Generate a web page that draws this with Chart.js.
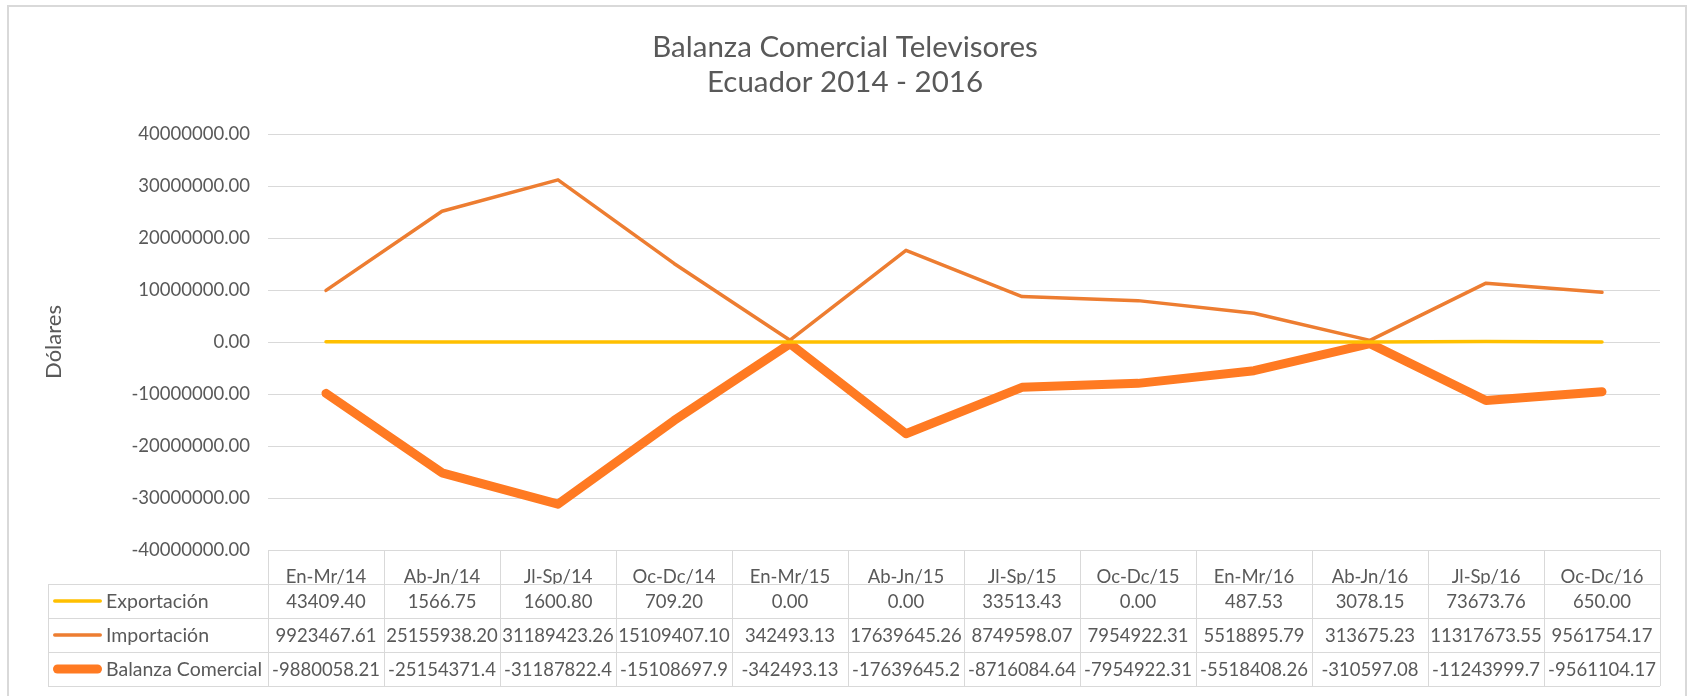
<!DOCTYPE html>
<html>
<head>
<meta charset="utf-8">
<script src="https://cdn.jsdelivr.net/npm/chart.js@4"></script>
<style>
  body { margin: 0; background: #fff; }
  #wrap { position: relative; width: 1687px; height: 696px; }
  #frame { position: absolute; left: 7px; top: 5px; width: 1676px; height: 700px;
           border: 2px solid #d9d9d9; pointer-events: none; }
</style>
</head>
<body>
<div id="wrap">
  <canvas id="myChart"></canvas>
  <div id="frame"></div>
</div>
<script>
var labels = ['En-Mr/14','Ab-Jn/14','Jl-Sp/14','Oc-Dc/14','En-Mr/15','Ab-Jn/15','Jl-Sp/15','Oc-Dc/15','En-Mr/16','Ab-Jn/16','Jl-Sp/16','Oc-Dc/16'];
var exportacion = [43409.40, 1566.75, 1600.80, 709.20, 0.00, 0.00, 33513.43, 0.00, 487.53, 3078.15, 73673.76, 650.00];
var importacion = [9923467.61, 25155938.20, 31189423.26, 15109407.10, 342493.13, 17639645.26, 8749598.07, 7954922.31, 5518895.79, 313675.23, 11317673.55, 9561754.17];
var balanza = [-9880058.21, -25154371.4, -31187822.4, -15108697.9, -342493.13, -17639645.2, -8716084.64, -7954922.31, -5518408.26, -310597.08, -11243999.7, -9561104.17];
var yTicks = [-40000000, -30000000, -20000000, -10000000, 0, 10000000, 20000000, 30000000, 40000000];

var font = 'Lato';
var grey = '#595959';
var lineGrey = '#d9d9d9';

// excel "general" style: cut a decimal when the cell is too narrow
function cellText(v){
  var s = v.toFixed(2);
  if (s.length > 11) s = v.toFixed(1);
  return s;
}

var tablePlugin = {
  id: 'dataTable',
  afterDraw: function(chart){
    var ctx = chart.ctx;
    var area = chart.chartArea;
    var x = chart.scales.x;
    var w = x.getPixelForValue(1) - x.getPixelForValue(0);
    var top = area.bottom;
    var rowH = 34;
    var legLeft = 48;
    ctx.save();
    ctx.strokeStyle = lineGrey;
    ctx.lineWidth = 1;
    ctx.beginPath();
    for (var r = 0; r <= 4; r++){
      var yy = Math.round(top + r*rowH) + 0.5;
      ctx.moveTo(r == 0 ? area.left : legLeft, yy);
      ctx.lineTo(area.right, yy);
    }
    ctx.moveTo(legLeft + 0.5, top + rowH);
    ctx.lineTo(legLeft + 0.5, top + 4*rowH);
    for (var k = 0; k <= labels.length; k++){
      var xx = Math.round(x.getPixelForValue(0) - w/2 + k*w) + 0.5;
      ctx.moveTo(xx, top);
      ctx.lineTo(xx, top + 4*rowH);
    }
    ctx.stroke();

    ctx.fillStyle = grey;
    ctx.textBaseline = 'middle';
    chart.data.datasets.forEach(function(ds, i){
      var cy = top + rowH*(i+1) + rowH/2;
      ctx.beginPath();
      ctx.strokeStyle = ds.borderColor;
      ctx.lineWidth = ds.borderWidth;
      ctx.lineCap = 'round';
      ctx.moveTo(53 + ds.borderWidth/2, cy);
      ctx.lineTo(102 - ds.borderWidth/2, cy);
      ctx.stroke();
      ctx.font = '19.5px ' + font;
      ctx.textAlign = 'left';
      ctx.fillText(ds.label, 106, cy + 1);
      ctx.font = '18.5px ' + font;
      ctx.textAlign = 'center';
      ds.data.forEach(function(v, j){
        ctx.fillText(cellText(v), x.getPixelForValue(j), cy + 1);
      });
    });
    ctx.restore();
  }
};

var ctx = document.getElementById('myChart').getContext('2d');
var myChart = new Chart(ctx, {
  type: 'line',
  data: {
    labels: labels,
    datasets: [{
      label: 'Exportación',
      data: exportacion,
      borderColor: '#FFC000',
      borderWidth: 3.5
    }, {
      label: 'Importación',
      data: importacion,
      borderColor: '#ED7D31',
      borderWidth: 3.5
    }, {
      label: 'Balanza Comercial',
      data: balanza,
      borderColor: '#FF7A22',
      borderWidth: 9
    }]
  },
  plugins: [tablePlugin],
  options: {
    responsive: true,
    maintainAspectRatio: false,
    animation: false,
    layout: { padding: { left: 30, right: 27, top: 0, bottom: 112 } },
    elements: {
      point: { radius: 0, hoverRadius: 0 },
      line: { tension: 0, borderCapStyle: 'round', borderJoinStyle: 'round', fill: false }
    },
    plugins: {
      legend: { display: false },
      tooltip: { enabled: false },
      title: {
        display: true,
        text: ['Balanza Comercial Televisores', 'Ecuador 2014 - 2016'],
        color: grey,
        font: { family: font, size: 29.5, weight: 'normal', lineHeight: 35 / 29.5 },
        padding: { top: 30, bottom: 34 }
      }
    },
    scales: {
      x: {
        offset: true,
        grid: { display: false },
        border: { display: false },
        ticks: { color: grey, font: { family: font, size: 18.5 }, padding: 8, maxRotation: 0, autoSkip: false },
        afterFit: function(s){ s.height = 34; }
      },
      y: {
        min: -40000000,
        max: 40000000,
        afterBuildTicks: function(s){ s.ticks = yTicks.map(function(v){ return {value: v}; }); },
        grid: { color: lineGrey, drawTicks: false },
        border: { display: false },
        ticks: {
          color: grey,
          font: { family: font, size: 18.5 },
          padding: 18,
          callback: function(v){ return v.toFixed(2); }
        },
        title: {
          display: true,
          text: 'Dólares',
          color: grey,
          font: { family: font, size: 22, weight: 'normal' },
          padding: { top: 11, bottom: 0 }
        },
        afterFit: function(s){ s.width = 238; }
      }
    }
  }
});
</script>
</body>
</html>
